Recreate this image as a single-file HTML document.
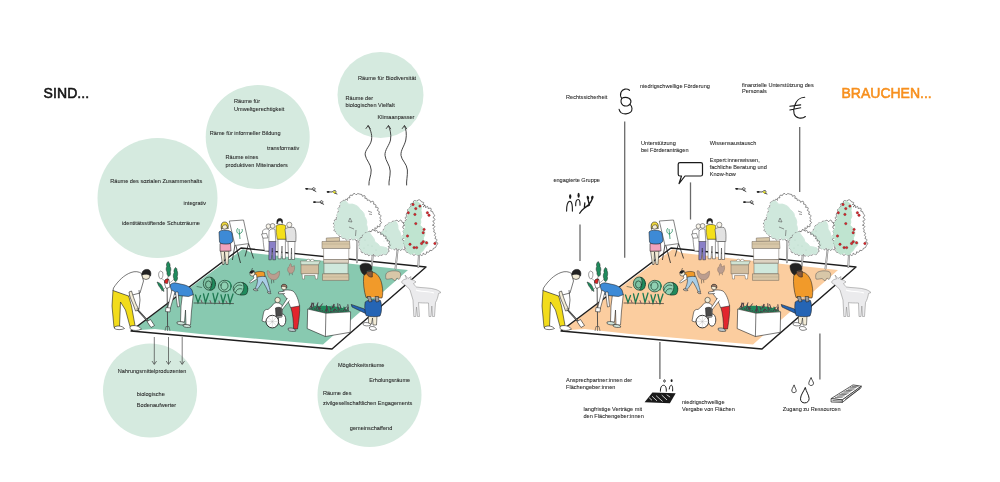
<!DOCTYPE html>
<html><head><meta charset="utf-8">
<style>
html,body{margin:0;padding:0;background:#fff;width:1000px;height:482px;overflow:hidden}
svg{display:block;will-change:transform}
text{font-family:"Liberation Sans",sans-serif;fill:#262626}
.t{font-size:5.8px}
.t text{stroke:#262626;stroke-width:0.07}
.ln{stroke:#555;stroke-width:1.2;fill:none}
</style></head><body>
<svg width="1000" height="482" viewBox="0 0 1000 482">
<rect width="1000" height="482" fill="#fff"/>
<!-- ===== LEFT: SIND ===== -->
<text x="43.5" y="98" style="font-size:14px;font-weight:normal;fill:#151515;stroke:#151515;stroke-width:0.55;letter-spacing:0.1px">SIND...</text>
<g fill="#d5eadf">
<circle cx="157.5" cy="198" r="60"/>
<circle cx="257.7" cy="137" r="52"/>
<circle cx="380.5" cy="95" r="43"/>
<circle cx="150" cy="390.5" r="47"/>
<circle cx="369.5" cy="395" r="52"/>
</g>
<g class="t">
<text transform="matrix(0.965,0,0,1,110.3,182.9)">Räume des sozialen Zusammenhalts</text>
<text transform="matrix(0.965,0,0,1,183.5,205)">integrativ</text>
<text transform="matrix(0.965,0,0,1,122,225.3)">identitätsstiftende  Schutzräume</text>
<text transform="matrix(0.965,0,0,1,234,103)">Räume für</text>
<text transform="matrix(0.965,0,0,1,234,110.5)">Umweltgerechtigkeit</text>
<text transform="matrix(0.965,0,0,1,209.8,134.7)">Räme für informeller Bildung</text>
<text transform="matrix(0.965,0,0,1,267,150)">transformativ</text>
<text transform="matrix(0.965,0,0,1,225.5,159)">Räume eines</text>
<text transform="matrix(0.965,0,0,1,225.5,166.5)">produktiven Miteinanders</text>
<text transform="matrix(0.965,0,0,1,358,80)">Räume für Biodiversität</text>
<text transform="matrix(0.965,0,0,1,345.5,99.8)">Räume der</text>
<text transform="matrix(0.965,0,0,1,345.5,106.6)">biologischen Vielfalt</text>
<text transform="matrix(0.965,0,0,1,377.5,118.7)">Klimaanpasser</text>
<text transform="matrix(0.965,0,0,1,117.8,372.9)">Nahrungsmittelproduzenten</text>
<text transform="matrix(0.965,0,0,1,136.8,395.5)">biologische</text>
<text transform="matrix(0.965,0,0,1,136.8,406.5)">Bodenaufwerter</text>
<text transform="matrix(0.965,0,0,1,337.9,366.6)">Möglichkeitsräume</text>
<text transform="matrix(0.965,0,0,1,369.2,381.8)">Erholungsräume</text>
<text transform="matrix(0.965,0,0,1,322.9,394.7)">Räume des</text>
<text transform="matrix(0.965,0,0,1,322.9,405.4)">zivilgesellschaftlichen Engagements</text>
<text transform="matrix(0.965,0,0,1,349.8,429.6)">gemeinschaffend</text>
</g>

<defs>
<g id="scene">
<!-- ground outline & fill (fill color via currentColor) -->
<path d="M131.5,330.5 L243,249 L252,253 L408,270 L323,344.5 L200,334 L155,329 Z" fill="currentColor"/>
<path d="M131,331 L241,248 L426,267 L332,349 Z" fill="none" stroke="#1e1e1e" stroke-width="1.4" stroke-linejoin="round"/>
<!-- trees -->
<g stroke-linecap="round">
<path d="M357.5,236 L356.9,262.3" stroke="#777" stroke-width="1.9"/><path d="M357.5,236 L356.9,262.3" stroke="#f4f4f4" stroke-width="0.7"/>
<path d="M373,252 L371.8,266" stroke="#777" stroke-width="1.9"/><path d="M373,252 L371.8,266" stroke="#f4f4f4" stroke-width="0.7"/>
<path d="M398,246 L395.5,268.5" stroke="#777" stroke-width="1.9"/><path d="M398,246 L395.5,268.5" stroke="#f4f4f4" stroke-width="0.7"/>
<path d="M419.1,252 L418.3,267" stroke="#777" stroke-width="1.9"/><path d="M419.1,252 L418.3,267" stroke="#f4f4f4" stroke-width="0.7"/>
</g>
<g stroke-linejoin="round">
<path d="M342.4,201.7 Q343.0,198.9 344.9,201.1 Q345.3,197.5 347.4,200.4 Q346.6,197.1 349.9,197.9 Q348.7,194.2 352.4,195.5 Q353.7,191.7 356.1,194.8 Q357.7,192.5 359.9,194.2 Q362.4,193.7 362.4,196.3 Q366.2,194.2 364.8,198.3 Q367.7,197.4 367.3,200.4 Q370.2,199.2 370.5,202.3 Q374.3,199.4 373.6,204.2 Q377.2,204.1 375.5,207.3 Q379.9,206.8 377.3,210.4 Q380.9,211.3 378.6,214.2 Q382.5,214.9 379.8,217.9 Q382.1,219.4 379.8,221.0 Q383.3,222.6 379.8,224.1 Q381.0,228.4 377.3,225.9 Q378.0,229.5 374.8,227.8 Q375.9,231.8 372.3,229.7 Q373.3,233.5 369.8,231.6 Q370.4,234.1 367.9,233.8 Q369.9,237.4 366.0,236.0 Q366.6,239.7 363.6,237.5 Q363.7,240.5 361.1,239.0 Q359.3,240.9 357.9,238.8 Q356.0,242.8 354.7,238.5 Q352.8,241.5 351.4,238.3 Q349.6,241.9 348.2,238.0 Q346.3,242.1 345.0,237.8 Q341.4,239.8 342.1,235.7 Q338.1,238.2 339.1,233.7 Q336.0,235.0 336.2,231.6 Q332.0,230.8 335.6,228.4 Q332.3,227.4 335.0,225.3 Q331.3,222.7 335.8,222.4 Q332.2,219.8 336.7,219.5 Q335.0,217.5 337.5,216.6 Q335.8,214.4 338.5,213.6 Q336.6,211.4 339.5,210.6 Q335.8,207.8 340.4,207.7 Q338.0,205.2 341.4,204.7 Q338.6,202.1 342.4,201.7 Z" fill="#fff" stroke="#444" stroke-width="0.6"/><path d="M366.0,236.0 L364.4,238.9 L361.1,239.0 L358.3,240.1 L355.8,238.0 L353.0,239.4 L350.4,237.6 L347.6,239.7 L345.0,237.8 L342.0,237.4 L341.0,234.2 L337.5,234.4 L336.2,231.6 L334.7,228.6 L335.0,225.3 L334.3,222.0 L337.2,219.7 L337.5,216.6 L337.2,213.8 L339.5,211.7 L338.4,208.6 L341.3,206.8 L340.1,203.7 L342.4,201.7 L345.5,200.8 L348.7,204.2 L352.5,204.1 L356.1,205.4 L358.4,206.9 L359.9,209.3 L362.0,211.0 L363.9,213.4 L364.6,216.5 L366.1,219.1 L366.8,221.9 L366.5,224.7 L367.4,227.5 L367.3,230.3 L367.1,233.3 Z" fill="#cfe8dc" stroke="#cfe8dc" stroke-width="0.9"/>
<path d="M381.1,235.0 Q380.0,232.0 383.2,231.7 Q382.4,228.8 385.3,228.3 Q383.9,225.1 387.4,225.0 Q388.2,222.0 391.1,223.1 Q392.0,220.3 394.8,221.2 Q397.2,218.6 398.6,221.8 Q401.2,218.0 402.3,222.5 Q406.6,222.4 403.5,225.4 Q407.7,225.3 404.8,228.3 Q407.7,228.8 406.0,231.2 Q409.4,232.8 406.3,234.9 Q409.1,236.6 406.6,238.6 Q409.2,240.3 407.0,242.4 Q409.3,244.0 407.3,246.1 Q407.2,248.9 404.8,247.3 Q405.5,251.8 402.3,248.6 Q400.4,252.5 399.2,248.3 Q397.3,252.1 396.1,248.0 Q394.2,251.8 393.0,247.7 Q391.2,250.0 389.9,247.4 Q387.1,248.8 387.4,245.7 Q384.2,247.8 384.9,244.1 Q381.5,246.4 382.4,242.4 Q378.0,241.3 381.8,238.7 Q377.3,237.6 381.1,235.0 Z" fill="#fff" stroke="#444" stroke-width="0.6"/><path d="M402.3,248.6 L399.1,249.1 L396.1,247.7 L392.9,249.0 L389.9,247.4 L386.7,246.8 L385.2,243.6 L382.4,242.4 L380.5,238.9 L381.1,235.0 L381.9,232.0 L384.5,230.2 L385.0,227.0 L387.4,225.0 L389.5,223.0 L392.5,222.7 L394.8,221.2 L396.5,222.0 L397.9,225.4 L398.0,229.0 L400.1,232.2 L401.0,236.0 L404.2,238.1 L406.5,241.0 L405.5,243.7 L403.5,246.0 Z" fill="#cfe8dc" stroke="#cfe8dc" stroke-width="0.9"/>
<path d="M416.6,201.1 Q419.7,198.1 421.6,202.0 Q425.6,202.1 422.4,204.5 Q426.6,204.5 423.2,207.0 Q425.8,203.3 425.7,207.8 Q428.1,204.6 428.2,208.6 Q432.5,206.8 430.7,211.1 Q433.4,210.9 433.2,213.6 Q436.2,215.7 432.9,217.5 Q437.1,219.7 432.7,221.3 Q436.1,223.5 432.4,225.2 Q436.9,226.1 433.0,228.5 Q435.5,229.8 433.6,231.8 Q437.0,232.9 434.3,235.2 Q437.1,236.4 434.9,238.5 Q438.5,239.4 435.7,241.8 Q439.4,242.7 436.5,245.2 Q436.2,248.2 433.2,248.5 Q432.7,251.5 429.9,250.2 Q429.4,253.3 426.6,251.8 Q426.4,256.4 423.2,253.1 Q422.9,257.3 419.9,254.3 Q417.6,256.3 416.0,253.7 Q413.5,257.4 412.2,253.2 Q409.9,255.1 408.3,252.6 Q404.3,252.2 406.6,248.9 Q403.8,248.0 405.0,245.2 Q402.9,243.4 404.7,241.3 Q400.4,239.7 404.4,237.4 Q401.8,235.6 404.1,233.5 Q401.9,231.2 404.6,229.3 Q400.4,226.8 405.0,225.2 Q401.4,222.6 405.8,222.4 Q403.7,220.3 406.7,219.7 Q402.9,217.0 407.5,216.9 Q404.6,213.9 408.3,211.9 Q406.0,208.6 410.0,209.1 Q408.7,206.5 411.6,206.4 Q408.8,202.7 413.3,203.6 Q412.7,199.4 416.6,201.1 Z" fill="#fff" stroke="#444" stroke-width="0.6"/><path d="M419.9,254.3 L416.8,254.9 L414.2,252.9 L411.0,254.3 L408.3,252.6 L406.4,250.5 L406.5,247.5 L405.0,245.2 L403.7,242.4 L405.2,239.3 L402.8,236.5 L404.1,233.5 L403.4,230.6 L405.3,228.0 L405.0,225.2 L404.9,222.2 L407.2,219.8 L407.5,216.9 L408.3,211.9 L409.1,208.6 L411.9,206.5 L413.3,203.6 L416.6,201.1 L420.5,204.0 L421.5,207.1 L421.0,210.4 L421.6,213.6 L421.8,216.6 L420.5,219.4 L420.8,222.4 L419.9,225.2 L422.1,227.1 L423.1,229.8 L424.9,231.9 L424.7,234.7 L423.6,237.4 L423.2,240.2 L426.0,241.3 L428.2,243.5 L426.7,246.0 L424.5,248.0 L423.4,250.4 L421.3,252.1 Z" fill="#bfe4d0" stroke="#bfe4d0" stroke-width="0.9"/>
<path d="M360.0,243.6 Q357.0,240.6 361.2,240.5 Q358.1,237.4 362.5,237.4 Q361.5,233.9 364.9,234.9 Q364.3,231.8 367.4,232.4 Q369.0,230.2 371.1,231.8 Q372.5,227.9 374.9,231.2 Q377.9,229.3 377.8,232.9 Q381.2,230.3 380.7,234.5 Q383.6,232.9 383.6,236.2 Q387.7,235.3 385.3,238.7 Q388.3,238.4 386.9,241.1 Q391.1,240.1 388.6,243.6 Q392.2,245.6 388.2,246.5 Q391.0,248.4 387.8,249.4 Q390.9,251.3 387.4,252.3 Q386.7,256.4 383.6,253.6 Q382.5,256.5 379.9,254.8 Q378.0,258.0 376.8,254.5 Q374.8,258.3 373.6,254.2 Q371.8,256.6 370.5,253.9 Q368.6,257.7 367.4,253.6 Q364.0,255.8 364.3,251.8 Q360.7,254.3 361.2,249.9 Q358.2,248.8 360.6,246.8 Q358.2,245.6 360.0,243.6 Z" fill="#fff" stroke="#444" stroke-width="0.6"/><path d="M387.4,252.3 L385.3,254.3 L382.3,253.6 L379.9,254.8 L376.7,255.8 L373.7,253.7 L370.4,254.9 L367.4,253.6 L363.7,252.7 L361.2,249.9 L359.4,247.0 L360.0,243.6 L360.1,240.0 L362.5,237.4 L364.0,234.0 L367.4,232.4 L369.0,232.0 L372.0,236.0 L374.0,238.7 L375.0,242.0 L377.9,243.8 L380.0,246.5 L383.6,246.9 L387.0,248.0 Z" fill="#cfe8dc" stroke="#cfe8dc" stroke-width="0.9"/>
<path d="M350,218 L352,222 L348.5,221.5 Z M349,227 L354,229 M356,230 L355.5,236 M368,211 L372,212.5 M369,214 L372,214.5" fill="none" stroke="#555" stroke-width="0.6"/>
<g fill="#7fae98"><circle cx="365" cy="240" r="0.35"/><circle cx="368" cy="245" r="0.35"/><circle cx="364" cy="248" r="0.35"/><circle cx="376" cy="250" r="0.35"/><circle cx="386" cy="231" r="0.35"/><circle cx="389" cy="238" r="0.35"/><circle cx="384" cy="241" r="0.35"/><circle cx="391" cy="244" r="0.35"/><circle cx="372" cy="246" r="0.35"/></g>
</g>
<g fill="#e0242b" stroke="#5a1a1a" stroke-width="0.35"><circle cx="408.3" cy="212.8" r="1.2"/><circle cx="415.8" cy="208.6" r="1.2"/><circle cx="419.9" cy="206.1" r="1.2"/><circle cx="414.9" cy="214.4" r="1.2"/><circle cx="427.4" cy="212.8" r="1.2"/><circle cx="429" cy="215.3" r="1.2"/><circle cx="415.8" cy="223.6" r="1.2"/><circle cx="424.1" cy="229.4" r="1.2"/><circle cx="423.2" cy="232.7" r="1.2"/><circle cx="407.5" cy="236" r="1.2"/><circle cx="410" cy="244.3" r="1.2"/><circle cx="414.1" cy="247.6" r="1.2"/><circle cx="416.6" cy="247.6" r="1.2"/><circle cx="421.6" cy="243.5" r="1.2"/><circle cx="423.2" cy="241.8" r="1.2"/><circle cx="426.6" cy="242.7" r="1.2"/><circle cx="434.9" cy="243.5" r="1.2"/><circle cx="413" cy="204.5" r="1.2"/></g>
<!-- bees -->
<g stroke="#1a1a1a" stroke-width="0.8" fill="none" stroke-linecap="round">
<path d="M305.6,188.7 L312,189.2 C312.5,187.5 314.5,187.3 315,188.5 C315.5,190 314,190.5 312.5,189.6 L315.9,191.5"/>
<path d="M313.4,202.1 L319.8,202.2 C320.3,200.5 322.3,200.3 322.8,201.5 C323.3,203 321.8,203.5 320.3,202.6 L323.7,204.3"/>
<path d="M327.1,191.8 L332.5,192 C333,190.3 335.5,190.2 336,191.3 C336.5,192.8 335,193.3 333.5,192.5 L337,194"/>
</g>
<g fill="#1a1a1a"><ellipse cx="306.8" cy="188.8" rx="1.3" ry="0.9"/><ellipse cx="314.6" cy="202.1" rx="1.3" ry="0.9"/><ellipse cx="328.2" cy="191.9" rx="1.3" ry="0.9"/></g>
<ellipse cx="334.3" cy="192.2" rx="1.4" ry="1" fill="#d8d21a"/>
<!-- FIGURES -->
<!-- FIG2 -->
<g id="flip" stroke="#1e1e1e" stroke-width="0.55" stroke-linejoin="round" fill="none">
<path d="M235,244.8 L232.4,260 M236,246 L240.5,263 M248.6,243.6 L245,256.5 M248.6,243.6 L253.6,258.5" stroke="#222" stroke-width="0.8"/>
<path d="M229.3,221 L243.5,220 L248.6,243.6 L235,245.5 Z" fill="#fff"/>
<path d="M238,228 C236,230 236.5,233 239,234 M239,234 C242,233 243,231 242,229 M239,229 L240,239" stroke="#1f8a5c" stroke-width="0.8"/>
<path d="M220.6,251 L222.5,264.5 L224,264.5 L224.5,252 L226,264.5 L228,264.5 L229,251 Z" fill="#f3ecd6"/>
<path d="M220,243.6 L230.5,243.6 L231,251 L220,251.2 Z" fill="#f2a3bd"/>
<path d="M219,232 C220,230.5 223,230 225,230.3 C228,230 231,231 232,233 L233,241 C232,243 230,244 226,244 C222.5,244 220,243.5 219.5,242 Z" fill="#3d8ad6"/>
<circle cx="224.6" cy="226" r="3.2" fill="#f3ecd6"/>
<path d="M221.5,229.5 C220.5,225 221.5,222 224.5,222 C228,222 228.8,225 228,229 L226.5,225 C225,224.5 223.5,225 222.5,226 Z" fill="#f0d83a"/>
</g>
<g id="group" stroke="#1e1e1e" stroke-width="0.45" stroke-linejoin="round">
<path d="M262.5,231 C263.5,229 266,228.5 268,229 L270.5,232 L270,251 L264.5,251 C263.5,246 263,240 262.5,231 Z" fill="#fff"/>
<path d="M261.5,234 L266.5,233.4 L268,237.9 L263,238.2 Z" fill="#fff"/>
<circle cx="268.4" cy="226.2" r="2.3" fill="#f8f4ea"/>
<path d="M269,241 L275.9,241 L275.5,259.8 L272.8,259.8 L272.3,248 L271.3,259.8 L268.8,259.8 Z" fill="#8a80c8"/>
<path d="M269,231 C270,229 273,228.3 275,229.3 L275.8,241.5 L268.8,241.5 Z" fill="#fff"/>
<circle cx="272.6" cy="225.9" r="2.4" fill="#f8f4ea"/>
<path d="M277.9,239 L285.4,239 L285.4,258.8 L282.5,258.8 L282,246 L281,258.8 L278.1,258.8 Z" fill="#fff"/>
<path d="M276,226 C278,224 283,224 285.5,225.5 L286,239.2 L277.2,239.2 C276.5,235 276,230 276,226 Z" fill="#f5e01a"/>
<path d="M277.5,224 C277.3,221 278.5,219.5 280.5,219.6 C282.3,219.8 282.6,222 282.2,224.5 Z" fill="#fff"/>
<path d="M276.9,224 C276.5,220 277.5,218.4 280,218.5 C282.5,218.6 282.8,220.5 282.2,223 L281,220.8 L278.5,221 C278,222 277.5,223 276.9,224 Z" fill="#222"/>
<path d="M288,241.5 L295,241.5 L294.5,259.5 L291.8,259.5 L291.5,248 L291,259.5 L288.5,259.5 Z" fill="#fff"/>
<path d="M285,229.5 C286,227.5 290,227 294,227.5 C296,229.5 296.3,235 295.8,241.5 L286.5,241.5 Z" fill="#e2e2e2"/>
<circle cx="289.3" cy="224.8" r="2.6" fill="#f8f4ea"/>
</g>
<g id="veg" stroke="#1a3a2a" stroke-width="0.7" fill="none" stroke-linecap="round">
<ellipse cx="209.3" cy="283.6" rx="6" ry="6.6" fill="#7fc3a3"/>
<path d="M211,277.5 C215,278 216.5,284 214.5,288 C213,290 211,290.5 209.5,290 C212,287 213,281 211,277.5 Z" fill="#1f8a5c"/>
<ellipse cx="208.5" cy="284.5" rx="3" ry="3.6"/>
<path d="M197,286.5 L201.5,287.5" stroke="#1a3a2a" stroke-width="0.5"/>
<ellipse cx="224.8" cy="286.1" rx="6.4" ry="5.8" fill="#8fd0b2"/>
<path d="M221,285 C221.5,282 225,281 227,283 C229,285.5 228,289 225,290 C222.5,290.5 220.5,288.5 221,285 Z"/>
<path d="M228,281 C231,282 232,286 230,290" stroke="#1f8a5c" stroke-width="1.2"/>
<ellipse cx="240.4" cy="288.6" rx="7.2" ry="6.3" fill="#8fd0b2"/>
<path d="M243,283 C248,283.5 249,290 246.5,294 C245,295 242,295.5 240,294.5 C243.5,292 245,287 243,283 Z" fill="#1f8a5c"/>
<path d="M234,290 C235,285.5 239,284 242,285.5 M235.5,292.5 C236.5,289 239.5,288 242,289" />
<path d="M195.5,295 L198,302.5 L200.5,295.5 M203.5,294 L205.5,302.5 L208.5,293.5 M213,293.5 L215,302.5 L218,293 M221,295 L223,303 L225.5,294.5 M228,294.5 L230,303 L233,294" fill="none" stroke="#1f7a52" stroke-width="1.3"/>
<path d="M201,300 L202,302.5 M210,300.5 L211,303 M219,301 L219.5,303 M226,301 L227,303" stroke="#6b4a55" stroke-width="0.9"/>
<path d="M194,303 L233.5,303.6" stroke="#3a3030" stroke-width="0.7"/>
</g>
<g id="crouch" stroke="#1e1e1e" stroke-width="0.5" stroke-linejoin="round">
<path d="M256.5,277 C259,275.5 263,275 265.5,276 C267.5,280 269,286 270.5,292 L268.5,292.5 C266.5,288 264.5,284 262.5,281.5 C261,284.5 259,287.5 257,289.5 L255,289 C256.5,286 257.5,282.5 257.5,280 Z" fill="#a9cde6"/>
<path d="M253.5,289 C255.5,288.5 257.5,289 258,290.5 C256,291 254.5,290.8 253.5,290 Z M267.5,292 C269,291.5 270.5,292 271,293.5 C269.5,294 268,293.5 267.5,292.5 Z" fill="#ccc"/>
<path d="M254.7,272.5 C258,271.2 262,271 264.5,272.3 L265,276.5 C261,276 257.5,277 255,278 Z" fill="#f19a2a"/>
<path d="M252.5,274 L256.5,274.5 L257,279 L250.5,283 L249.5,282 L254,278 Z" fill="#fff"/>
<circle cx="252.3" cy="273.6" r="2.5" fill="#f3ecd6"/>
<path d="M249.8,273 C250,270.8 252,270 254.5,271 L252,273.5 Z M251.5,270.5 L252.5,268" fill="#222"/>
</g>
<g id="chickens" stroke="#7a6458" stroke-width="0.4" stroke-linejoin="round">
<path d="M271.5,279.5 L271.6,283.5 M273.5,279.8 L273.8,282.8" fill="none" stroke="#333" stroke-width="0.5"/>
<path d="M267,271 C268,270 269.5,271 269.5,272.5 C271,274.5 274,275 276,273.5 C277,272.5 278.5,271.5 279.5,271 C280,274 279,278 276,279.5 C273.5,280.5 270,279.5 268.5,277 C267.5,275 267,273 267,271 Z" fill="#bb9d8f"/>
<path d="M289.4,272.5 L289.4,275.4 M292,272.5 L292.5,275.1" fill="none" stroke="#555" stroke-width="0.5"/>
<path d="M290.5,263.5 C291.5,264 291.5,265.5 291.5,266.5 C292.5,267 293.5,266 294.3,265.5 C295,268 294.5,271.5 292.5,273 C290.5,274 288.5,273 287.8,271 C287.2,269 288,267 289.5,266 C289.5,265 290,264 290.5,263.5 Z" fill="#bb9d8f"/>
</g>
<g id="hives" stroke="#6d6356" stroke-width="0.5" stroke-linejoin="round">
<path d="M302,273.5 L302.5,279 L304.5,279 L304.5,275.5 L315,275.5 L315.5,279 L317.5,279 L318,273.5 Z" fill="#fff"/>
<path d="M301,264.5 L318.5,264.5 L318.5,273.8 L301,273.8 Z" fill="#d2bea0"/>
<path d="M300.5,261 L320.3,261 L318.5,264.8 L301,264.8 Z" fill="#cfe3d3"/>
<path d="M306.5,261 C306.5,258.8 310,258.5 310,261 M310.5,261 C310.5,258.8 314,258.5 314,261" fill="#fff"/>
<path d="M326.3,238 L339.5,237.5 L339.5,241.5 L326.3,241.8 Z" fill="#d8c7a8"/>
<path d="M322,241.5 L349.5,241 L350,248.5 L322,248.5 Z" fill="#d8c7a8"/>
<path d="M322,244 L350,244" fill="none" stroke="#a89878" stroke-width="0.4"/>
<path d="M323.6,248.5 L348.8,248.5 L348.8,259.5 L323.6,259.5 Z" fill="#fff"/>
<path d="M323.6,259.5 L348.5,259.5 L348.5,263.3 L323.6,263.3 Z" fill="#ddd3c2"/>
<path d="M324,263.3 L348,263.3 L348,273.8 L324,273.8 Z" fill="#cfe8dc"/>
<path d="M322.5,273.8 L348.8,273.8 L348.8,280.4 L322.5,280.4 Z" fill="#d8c7a8"/>
<path d="M322.5,277 L348.8,277" fill="none" stroke="#a89878" stroke-width="0.4"/>
</g>
<g id="wheel" stroke="#1e1e1e" stroke-width="0.55" stroke-linejoin="round">
<ellipse cx="282" cy="320" rx="3.8" ry="6.2" fill="#fff" stroke="#222" stroke-width="0.8"/>
<path d="M263.5,313 C264,310 266,309 268,309.5 L272,306 C273.5,303 276,302 279,303 C281.5,304 283,306 282.5,309 L282,317 L270,319 L265,322 L262,321 Z" fill="#fff"/>
<path d="M275.5,308 C277.5,307 280.5,307 281.5,308.5 L281.5,316 L276,316.5 Z" fill="#4a4a4a"/>
<circle cx="272.3" cy="321.6" r="6.3" fill="#fff" stroke="#222" stroke-width="0.9"/>
<path d="M272.3,315.5 L272.3,327.7 M266.2,321.6 L278.4,321.6 M268,317.3 L276.6,325.9 M276.6,317.3 L268,325.9" stroke="#999" stroke-width="0.3"/>
<circle cx="277.6" cy="300" r="2.7" fill="#f3ecd6"/>
</g>
<g id="redman" stroke="#1e1e1e" stroke-width="0.55" stroke-linejoin="round">
<path d="M290.5,306 L299.6,305 C300,312 299,320 297.5,329 L293.5,329 C293.5,322 293,314 290.5,306 Z" fill="#e2262d"/>
<path d="M288.2,328.3 C291,327.5 295,328 296,331 C293,332 289.5,331.6 288.2,330 Z" fill="#b8c4c8"/>
<path d="M283,290.5 C286,289.5 290,289.8 293,291 C296.5,294 298.5,300 299.5,306 L290.5,307.5 C289,303 287,298 283,294 Z" fill="#fff"/>
<path d="M284.5,291.2 L278.5,292 L278.6,293.8 L285,293.6" fill="#fff"/>
<path d="M287.5,298 L281,308 L282.5,309.3 L289.5,300.5" fill="#fff"/>
<circle cx="284" cy="287.2" r="2.6" fill="#f3ecd6"/>
<path d="M281.4,286.5 C281.5,284.2 283.5,284 285.5,284.5 C287,285.2 287,286.5 286.7,288 C285.5,286.5 283.5,286 281.4,286.5 Z" fill="#a37f6a"/>
</g>
<g id="bed" stroke="#1e1e1e" stroke-width="0.6" stroke-linejoin="round">
<path d="M308,309 C314,305 322,305.5 328,306 C337,306.5 345,307.5 350.5,311.5 L326,313.2 Z" fill="#1f8a5c" stroke="none"/>
<path d="M309.5,308.2 L312.8,303.2 M311.2,308.6 L311.9,302.9 M312.6,308.9 L313.7,303.2 M314.8,309.4 L313.8,305.7 M316.0,309.7 L317.9,302.8 M317.6,310.1 L322.4,303.8 M319.8,310.6 L316.9,305.0 M321.0,310.9 L317.6,306.1 M322.9,311.3 L320.0,307.7 M324.8,311.7 L327.3,306.9 M326.5,312.0 L326.5,305.6 M328.3,311.9 L326.6,306.6 M330.3,311.8 L334.0,304.7 M331.8,311.7 L329.9,307.1 M333.1,311.6 L334.5,308.0 M334.9,311.5 L333.8,304.3 M337.1,311.4 L332.4,305.8 M338.2,311.3 L337.8,303.7 M340.5,311.2 L337.5,306.8 M341.9,311.1 L339.7,304.5 M343.2,311.0 L346.2,307.0 M345.4,310.9 L344.0,307.1 M346.6,310.8 L348.1,307.4 M348.3,310.7 L347.9,304.7" fill="none" stroke="#4a3d45" stroke-width="1.0" stroke-linecap="round"/>
<path d="M313,308.5 L316.5,306 M321,310 L324.5,307 M331,310.5 L335,307.5 M341,310 L344.5,307.5" fill="none" stroke="#1f8a5c" stroke-width="1.2" stroke-linecap="round"/>
<path d="M307.7,309 L325.9,313.2 L350.6,311.8 L350.2,332.3 L325.4,336.5 L307.2,328.6 Z" fill="#fff"/>
<path d="M325.9,313.2 L325.4,336.5" fill="none"/>
</g>
<g id="waterer" stroke="#1e1e1e" stroke-width="0.55" stroke-linejoin="round">
<path d="M368.4,315.5 L377,315.5 L376.5,325 L373,325 L372.5,318 L371.5,324 L368.5,324 Z" fill="#f3ecd6"/>
<path d="M363,323 C366,322 370,322.5 371,325 C368,326.5 364,326 363,324.5 Z M369.5,327 C372.5,326 376,326.5 376.5,329.5 C373.5,331 370,330.5 369.5,328.5 Z" fill="#fff"/>
<path d="M363.7,276 C365,272 370,271 374,272.5 C378,274 381,279 382,285 C383,290 383,295 382,298 L366,297.5 C364,291 363,283 363.7,276 Z" fill="#f19a2a"/>
<path d="M366.8,309.8 L351.2,304.4 L352,307 L365.5,313.5 Z" fill="#2565b5"/>
<path d="M365.2,302 C368,299.5 376,299 380.5,300.5 C382,305 382,312 380,316 C376,317 370,317 366,315.5 C364.5,311 364.5,306 365.2,302 Z" fill="#2565b5"/>
<path d="M367,299.5 C370,297 377,297 380,299.5" fill="none" stroke="#fff" stroke-width="0.8"/>
<path d="M367,296.5 L369,302 L372,301.5 L370.5,296.5 Z M375,296.5 L376,302 L379,301.5 L378.5,296.5 Z" fill="#999"/>
<path d="M366,272 C367,276 370,277.5 372.3,277 L372.3,271 Z" fill="#8a5a3c"/>
<path d="M360,266 C361,263 366,262.5 369.5,264 C372,265.5 372.5,268 371.5,270.5 L367,271 C366,273 365.5,275 364.5,275 C362,274 360,270 360,266 Z" fill="#222"/>
</g>
<g id="rock" stroke="#555" stroke-width="0.5">
<path d="M386,274 C387,271 394,270 399,271.5 C401.5,273 401,277 399,279.5 L397,278 L395,281 L392,278.5 C389,279 387,279.5 386,279 C385.5,277 385.5,275.5 386,274 Z" fill="#d8c7a8"/>
</g>
<g id="goat" stroke="#8a8a8a" stroke-width="0.55" stroke-linejoin="round">
<path d="M401.5,282 C402.5,280 404.5,279 406.5,279 L405,275 L408,278.5 L411,276.5 L410.5,279.5 C412.5,279.5 414.5,280.5 416,282 L413.5,283.5 C414.5,285 415.5,286.5 416.5,287 C422,288 430,287.5 436,289.5 C438.5,290.5 440,291.5 441,292.5 L438.5,293.5 C438,297 437,300 435.5,302.5 L434.5,316.5 L432.5,316.5 L431.8,306 L431,316.5 L429,316.5 L428.5,303 C424,303 420,303 418.5,302.5 L419.5,316.5 L417.5,316.5 L416.5,307 L415.8,316.5 L413.8,316.5 L413,300 C412,297 411,293 410,290 C408,287.5 405.5,285 403.5,284 C402.5,283.5 401.8,283 401.5,282 Z" fill="#ebebed"/>
<path d="M416,290 C420,292 428,291 434,293" fill="none" stroke="#fff" stroke-width="1.2"/>
</g>
<g id="hoe" stroke="#1e1e1e" stroke-width="0.6" stroke-linejoin="round">
<path d="M135.5,307.5 L150,323.5" stroke="#222" stroke-width="1.7"/><path d="M135.5,307.5 L150,323.5" stroke="#aaa" stroke-width="0.6"/>
<path d="M147,321.5 L150.5,319.5 L154.5,325.5 L151,327.5 Z" fill="#fff"/>
<path d="M113,290 L128.5,295.5 L131.5,306 L135,325.5 L130,326.5 L125.5,310 L120.5,302 L119.5,326.5 L114,327.5 L112,306 Z" fill="#f2dc1b"/>
<path d="M114.5,327 C117,325.5 122,325.5 124.5,328.5 C122,330 116,330 114.5,328.5 Z" fill="#fff"/>
<path d="M130,326.5 C133,325 138,325 141.5,329 C138,331 132,331 130,328.5 Z" fill="#fff"/>
<path d="M131,272.5 C135,271 139,271.5 141.5,273.5 L143.5,281 C142.5,285 141,289 140,293 L128.5,296 L113,290.5 L113.5,288 C118,281 124,275 131,272.5 Z" fill="#fff"/>
<path d="M131.5,291 C133,296 134.5,300 136,304 L139,310 L135.5,311 L133,304 C131,300 129.5,296 129,292 Z" fill="#f3ecd6"/>
<path d="M139,290 L140,300 L139,309 L136.5,309" fill="none"/>
<circle cx="146" cy="275.5" r="4" fill="#f3ecd6"/>
<path d="M142,275 C141.5,270.5 145,269 148,269.5 C150.5,270 151.5,273 150.5,276 C149,274 145,273.5 142,275 Z" fill="#222"/>
</g>
<g id="plant" stroke="#1e1e1e" stroke-width="0.45" stroke-linejoin="round">
<path d="M167,281 L167.6,326.5" stroke="#444" stroke-width="0.9" fill="none"/>
<path d="M167,283 C165,281 163,279.5 161,278 M167.2,286 C165,288 163,290 161,291 M167,281 C168,278 168.5,274 168.5,270 M168,284 C171,282 173.5,280 175,278" stroke="#555" stroke-width="0.5" fill="none"/>
<path d="M165,331 L166,326.5 L169,326.5 L170,331 M167.5,326.5 L167.5,331" fill="none" stroke="#444" stroke-width="0.6"/>
<path d="M168,261.5 C166.5,263 166,265 166.8,266.5 C165.8,268 166,270.5 167,272 C166.5,274 167.5,276 169,276.5 C170.5,275.5 171,273.5 170.2,272 C171.2,270 171,268 170,266.5 C170.5,264.5 169.5,262.5 168,261.5 Z" fill="#1f8a5c"/>
<path d="M175.5,267.5 C174,269 173.5,271 174.2,272.5 C173,274.5 173,277 174,279 C174,280.5 175,281.8 176,281.5 C177.5,280 178,278 177.2,276.5 C178,274.5 177.8,272 177,270.5 C177.2,269 176.5,268 175.5,267.5 Z" fill="#1f8a5c"/>
<path d="M160.5,271 C158,272 158,277 160.5,279 C162.5,279 163.5,275 162.5,272 Z" fill="#fff"/>
<path d="M157,282 C158,284 158.5,286 160,287.5 C161,289.5 162.5,290.8 164,291.5 C163.5,288.5 162.5,286.5 161.5,285 C160.5,283.5 159,282.5 157,282 Z" fill="#1f8a5c"/>
</g>
<g id="bender" stroke="#1e1e1e" stroke-width="0.55" stroke-linejoin="round">
<path d="M182.4,295 L193.3,294.5 L191.5,311 L190.5,325 L186,325 L185.5,310 L184.5,322 L180.5,322 L181,306 Z" fill="#fff"/>
<path d="M177,322 C180,321 184,321.5 185.5,324 C183,325.5 178.5,325 177,323.5 Z M183,325 C186,324 190,324.5 191,327 C188,328 184.5,327.5 183,326 Z" fill="#cfe3da"/>
<path d="M170,285 C171.5,283.5 173,282.8 175,282.8 L185,285 C188.5,286.3 191,288 192,290 L193.3,294.6 L188.6,296.5 L178,295.5 L173.5,293.8 C171.5,291 170.5,288 170,285 Z" fill="#3d8ad6"/>
<path d="M172,290 L167.5,308.5 L170,309.5 L175,292 Z" fill="#fff"/>
<path d="M175.5,292 L177.5,307 L179.5,306.5 L178,292 Z" fill="#fff"/>
<path d="M166,307.5 L170.5,308 L170,312 L165.5,311.5 Z" fill="#fff"/>
<path d="M164.5,282 C164.5,279.5 167,278.5 169,279.5 L170,287 L166.5,288.5 C165,286 164.5,284 164.5,282 Z" fill="#fff"/>
<path d="M164.6,282.5 C164.2,279.5 166.5,278.5 168.5,279.2 L167.5,283.5 C166,283.5 165,283.2 164.6,282.5 Z" fill="#e32525"/>
</g>
</g>
</defs>
<use href="#scene" style="color:#88c9b0"/>
<use href="#scene" x="430" style="color:#fbcd9f"/>
<!-- RIGHT ICONS -->
<g stroke="#6a6a6a" stroke-width="1.3" fill="none">
<path d="M624.7,121.6 L624.7,257.7"/>
<path d="M580,224.5 L580,261"/>
<path d="M690.5,182.4 L690.5,219.5"/>
<path d="M799.7,126.9 L799.7,192.1"/>
<path d="M659.9,342 L659.9,379.1"/>
<path d="M819.9,333.5 L819.9,379.5"/>
</g>
<g stroke="#1a1a1a" stroke-width="1.1" fill="none" stroke-linecap="round">
<path d="M629.5,90.3 C627,88.3 622.5,88.6 621,92.3 C620,95 620.6,97 621.8,98.4 C620.4,100.6 620.8,103.8 623,105.2 C626,107 630.4,105.6 630.9,102.2 C631.4,98.6 627.6,96.8 623.4,97.6 L621.8,98.4 M630.3,104.6 C632.4,106.6 632.6,110.2 630.6,112.2 C628.5,114.2 623.5,114.6 621,112.6 C620,111.7 619.4,110.6 619.1,109.4"/>
<path d="M804.7,97.3 C800,97.3 796,101 794.5,106 C792.5,112 794,117 799,118 C802,118.5 804,117.8 805.4,116.5 M789.8,106.3 L800.7,104.9 M789.8,110 L800.7,107.8"/>
<path d="M680,162.6 L700.8,162.6 Q702.5,162.6 702.5,164.3 L702.5,174.2 Q702.5,176 700.8,176 L685,176 L679,183.6 L681.5,176 L680,176 Q678.2,176 678.2,174.2 L678.2,164.3 Q678.2,162.6 680,162.6 Z" stroke-width="1.2" stroke-linejoin="round"/>
<path d="M566.6,211.1 C566.4,206 567.5,201.3 569.9,201.3 C572,201.3 572.6,206 572.4,211.1" stroke-width="1.1"/>
<path d="M575.7,205.7 C575.5,201.5 576.5,199.5 578.2,199.5 C579.6,199.5 580.2,201.8 580,205.3" stroke-width="1.1"/>
<path d="M579.7,213.3 C581,211 582.5,209.5 584.5,208 C586.5,206.5 588,205.5 589.5,204 M584.3,208.3 L584.8,202.8 M585.5,207 C587,206.5 588.5,206 589.5,205 M589.1,204.5 C588.8,202.5 588.5,201 588,199.5 M589.3,204 C590.5,202.5 591.5,201 592.2,199" stroke-width="1.3"/>
</g>
<g fill="#1a1a1a">
<ellipse cx="570.2" cy="196.6" rx="1.15" ry="2.3"/><ellipse cx="578.6" cy="195.2" rx="1.1" ry="2.5"/>
<ellipse cx="587.9" cy="197.6" rx="1.2" ry="1.9" transform="rotate(-15 587.9 197.6)"/><ellipse cx="592.3" cy="197.5" rx="1.2" ry="1.8" transform="rotate(20 592.3 197.5)"/>
<path d="M644.6,402.3 L652.4,392.4 L675.7,393.2 L669.9,403.2 Z"/>
<ellipse cx="671.6" cy="380.7" rx="1" ry="1.4"/>
</g>
<g stroke="#fff" stroke-width="0.75" fill="none" stroke-linecap="round"><path d="M649.5,398.1 L651.7,400 M652.3,396.5 L656.7,400.6 M656.4,395.9 L662.3,401.2 M662,395.3 L666.7,399.7 M667,395 L669.8,396.9"/></g>
<g stroke="#1a1a1a" stroke-width="0.8" fill="none">
<ellipse cx="664.5" cy="381" rx="0.8" ry="1.2"/>
<path d="M660.4,391.6 C660.3,387.5 661.5,385.3 663.5,385.3 C665.5,385.3 666.5,387.5 666.3,391.6" stroke-width="1"/>
<path d="M669.2,389.4 C669.5,387 670.2,385.3 671.3,385.3 C672.5,385.3 672.8,387.5 672.6,391.3" stroke-width="1"/>
<path d="M794.1,384.9 C793,387.5 791.6,389.5 791.8,391 C792,392.3 793,392.6 794,392.6 C795.3,392.6 796.3,391.8 796.2,390.5 C796,389 794.8,387.5 794.1,384.9 Z"/>
<path d="M811.1,377.5 C810,380 808.7,382 808.8,383.6 C809,385 810,385.5 811.1,385.5 C812.4,385.5 813.6,384.6 813.5,383.2 C813.3,381.5 811.8,380 811.1,377.5 Z"/>
<path d="M805.3,387.4 C804,391 800.5,395 800.5,398.8 C800.5,401.5 802.3,402.9 804.7,402.9 C807.4,402.9 809.2,401 809.1,398.5 C809,395 806,391.5 805.3,387.4 Z" stroke-width="1"/>
</g>
<g stroke="#1a1a1a" stroke-width="0.7" stroke-linejoin="round">
<path d="M831.1,398.6 L853,384.9 L861.3,386.2 L842.3,399.9 Z" fill="#fff"/>
<path d="M831.1,398.6 L842.3,399.9 L842.3,402.4 L831.1,402 Z" fill="#fff"/>
<path d="M842.3,399.9 L861.3,386.2 L861,387.8 L842.3,402.4 Z" fill="#fff"/>
<path d="M834.9,397.4 L842.7,397.2 M837.1,396.1 L844.6,395.8 M839.2,394.7 L846.6,394.5 M841.4,393.3 L848.6,393.1 M843.5,391.9 L850.6,391.7 M845.7,390.6 L852.5,390.4 M847.8,389.2 L854.5,389.0 M850.0,387.8 L856.5,387.6 M852.1,386.5 L858.5,386.2 M832.5,400.5 L841.5,401.2 M845,399.5 L860,388.5" fill="none" stroke-width="0.6"/>
</g>
<!-- wavy arrows -->
<g stroke="#3a3a3a" stroke-width="0.95" fill="none" stroke-linecap="round" stroke-linejoin="round">
<path d="M368.2,125.8 C370,129 372.5,134 371.5,140 C370.5,146 364.5,150 365.2,155 C366,160 371,164 371.2,170 C371.3,176 368.5,180 368.9,185"/>
<path d="M388.5,125.8 C390,129 391.5,134 390.5,140 C389.5,145 384.5,150 385,155.5 C385.5,161 390,165 390.2,171 C390.3,177 388.5,181 389,185"/>
<path d="M404.5,125.8 C406,129 407,134 405.8,140 C404.5,146 400.5,150 401,155.5 C401.5,160 407,164 407.4,170 C407.7,176 406.2,181 406.6,185"/>
<path d="M366,128.5 L368.2,125.5 L370.3,128.8"/><path d="M386.3,128.5 L388.5,125.5 L390.6,128.8"/><path d="M402.3,128.5 L404.5,125.5 L406.6,128.8"/>
</g>
<!-- down arrows -->
<g stroke="#444" stroke-width="0.7" fill="none">
<path d="M154.3,337 L154.3,364"/><path d="M168.5,337 L168.5,364"/><path d="M182.2,337 L182.2,364"/>
<path d="M152,361 L154.3,364.5 L156.6,361"/><path d="M166.2,361 L168.5,364.5 L170.8,361"/><path d="M179.9,361 L182.2,364.5 L184.5,361"/>
</g>
<!-- ===== RIGHT: BRAUCHEN ===== -->
<text x="841.5" y="98.2" style="font-size:14px;font-weight:normal;fill:#f7901e;stroke:#f7901e;stroke-width:0.55;letter-spacing:0px">BRAUCHEN...</text>
<g class="t">
<text transform="matrix(0.965,0,0,1,566,98.6)">Rechtssicherheit</text>
<text transform="matrix(0.965,0,0,1,640,88.4)">niedrigschwellige Förderung</text>
<text transform="matrix(0.965,0,0,1,742,86.5)">finanzielle Unterstützung des</text>
<text transform="matrix(0.965,0,0,1,742,93.1)">Personals</text>
<text transform="matrix(0.965,0,0,1,641,145.2)">Unterstützung</text>
<text transform="matrix(0.965,0,0,1,641,152.4)">bei Förderanträgen</text>
<text transform="matrix(0.965,0,0,1,709.7,145.2)">Wissensaustausch</text>
<text transform="matrix(0.965,0,0,1,709.7,162)">Expert:innenwissen,</text>
<text transform="matrix(0.965,0,0,1,709.7,169.2)">fachliche Beratung und</text>
<text transform="matrix(0.965,0,0,1,709.7,175.6)">Know-how</text>
<text transform="matrix(0.965,0,0,1,553.4,181.8)">engagierte Gruppe</text>
<text transform="matrix(0.965,0,0,1,566,381.8)">Ansprechpartner:innen der</text>
<text transform="matrix(0.965,0,0,1,566,389)">Flächengeber:innen</text>
<text transform="matrix(0.965,0,0,1,583.5,410.7)">langfristige Verträge mit</text>
<text transform="matrix(0.965,0,0,1,583.5,417.9)">den Flächengeber:innen</text>
<text transform="matrix(0.965,0,0,1,682,403.7)">niedrigschwellige</text>
<text transform="matrix(0.965,0,0,1,682,410.7)">Vergabe von Flächen</text>
<text transform="matrix(0.965,0,0,1,782.8,411.3)">Zugang zu Ressourcen</text>
</g>
</svg>
</body></html>
